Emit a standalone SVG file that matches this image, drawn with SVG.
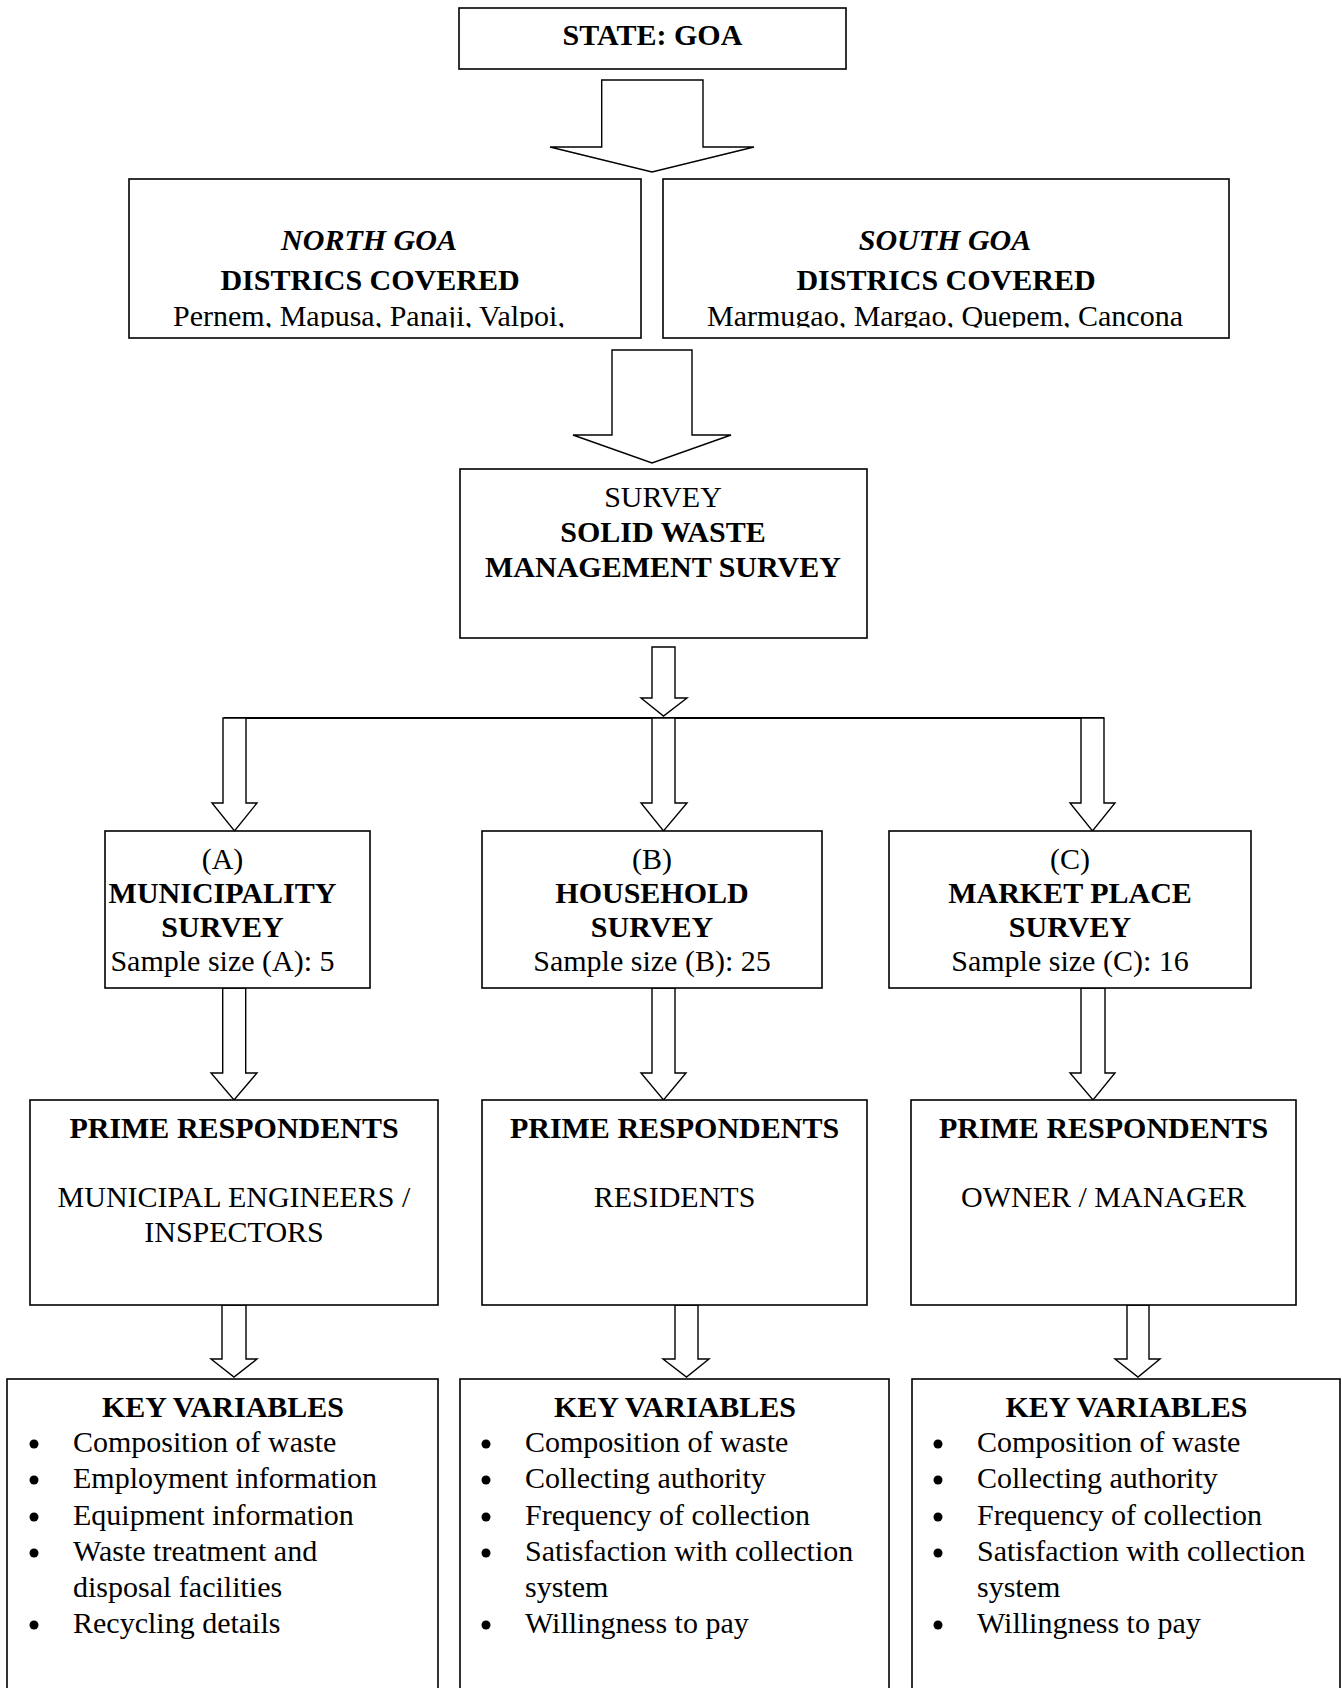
<svg xmlns="http://www.w3.org/2000/svg" width="1342" height="1688" viewBox="0 0 1342 1688">
<style>
.box{fill:#fff;stroke:#000;stroke-width:1.6}
.arr{fill:#fff;stroke:#000;stroke-width:1.4;stroke-linejoin:miter}
text{font-family:"Liberation Serif","Times New Roman",serif;font-size:30px;fill:#000}
.c{text-anchor:middle}
.b{font-weight:bold}
.i{font-style:italic}
</style>
<defs>
<clipPath id="clipN"><rect x="100" y="180" width="560" height="147.5"/></clipPath>
<clipPath id="clipS"><rect x="660" y="180" width="580" height="147.5"/></clipPath>
</defs>
<rect width="1342" height="1688" fill="#fff"/>

<g id="connectors">
<polygon class="arr" points="601.7,80 703,80 703,147 754,147 652,172 550,147 601.7,147"/>
<polygon class="arr" points="612,350 692,350 692,435 731,435 652,463 573,435 612,435"/>
<polygon class="arr" points="652,647 675,647 675,698 687,698 663.5,716 641,698 652,698"/>
<line x1="224" y1="718" x2="1104" y2="718" stroke="#000" stroke-width="2"/>
<polygon class="arr" points="223,718 246,718 246,803 257,803 234.5,831 212,803 223,803"/>
<polygon class="arr" points="652,718 675,718 675,803 687,803 663.5,831 641,803 652,803"/>
<polygon class="arr" points="1081,718 1104,718 1104,803 1115,803 1092.5,831 1070,803 1081,803"/>
<polygon class="arr" points="222.7,988 245.7,988 245.7,1073 257,1073 234,1100 211,1073 222.7,1073"/>
<polygon class="arr" points="652,988 675,988 675,1073 686,1073 663.5,1100 641,1073 652,1073"/>
<polygon class="arr" points="1081,988 1105,988 1105,1073 1115,1073 1093,1100 1070,1073 1081,1073"/>
<polygon class="arr" points="222,1305 246,1305 246,1359 257,1359 234,1377 211,1359 222,1359"/>
<polygon class="arr" points="675,1305 698,1305 698,1359 709,1359 686.5,1377 663,1359 675,1359"/>
<polygon class="arr" points="1127,1305 1149,1305 1149,1359 1160,1359 1138,1377 1115,1359 1127,1359"/>
</g>

<g id="state">
<rect class="box" x="459" y="8" width="387" height="61"/>
<text class="c b" x="652.5" y="45">STATE: GOA</text>
</g>

<g id="north-goa">
<rect class="box" x="129" y="179" width="512" height="159"/>
<text class="c b i" x="369" y="250">NORTH GOA</text>
<text class="c b" x="370" y="290">DISTRICS COVERED</text>
<text class="c" x="369" y="325.5" clip-path="url(#clipN)">Pernem, Mapusa, Panaji, Valpoi,</text>
</g>

<g id="south-goa">
<rect class="box" x="663" y="179" width="566" height="159"/>
<text class="c b i" x="945" y="250">SOUTH GOA</text>
<text class="c b" x="946" y="290">DISTRICS COVERED</text>
<text class="c" x="945" y="325.5" clip-path="url(#clipS)">Marmugao, Margao, Quepem, Cancona</text>
</g>

<g id="survey">
<rect class="box" x="460" y="469" width="407" height="169"/>
<text class="c" x="663" y="507">SURVEY</text>
<text class="c b" x="663" y="542">SOLID WASTE</text>
<text class="c b" x="663" y="577">MANAGEMENT SURVEY</text>
</g>

<g id="municipality-survey">
<rect class="box" x="105" y="831" width="265" height="157"/>
<text class="c" x="222.5" y="869">(A)</text>
<text class="c b" x="222.5" y="903">MUNICIPALITY</text>
<text class="c b" x="222.5" y="937">SURVEY</text>
<text class="c" x="222.5" y="971">Sample size (A): 5</text>
</g>

<g id="household-survey">
<rect class="box" x="482" y="831" width="340" height="157"/>
<text class="c" x="652" y="869">(B)</text>
<text class="c b" x="652" y="903">HOUSEHOLD</text>
<text class="c b" x="652" y="937">SURVEY</text>
<text class="c" x="652" y="971">Sample size (B): 25</text>
</g>

<g id="market-place-survey">
<rect class="box" x="889" y="831" width="362" height="157"/>
<text class="c" x="1070" y="869">(C)</text>
<text class="c b" x="1070" y="903">MARKET PLACE</text>
<text class="c b" x="1070" y="937">SURVEY</text>
<text class="c" x="1070" y="971">Sample size (C): 16</text>
</g>

<g id="prime-a">
<rect class="box" x="30" y="1100" width="408" height="205"/>
<text class="c b" x="234" y="1138">PRIME RESPONDENTS</text>
<text class="c" x="234" y="1207">MUNICIPAL ENGINEERS /</text>
<text class="c" x="234" y="1242">INSPECTORS</text>
</g>

<g id="prime-b">
<rect class="box" x="482" y="1100" width="385" height="205"/>
<text class="c b" x="674.5" y="1138">PRIME RESPONDENTS</text>
<text class="c" x="674.5" y="1207">RESIDENTS</text>
</g>

<g id="prime-c">
<rect class="box" x="911" y="1100" width="385" height="205"/>
<text class="c b" x="1103.5" y="1138">PRIME RESPONDENTS</text>
<text class="c" x="1103.5" y="1207">OWNER / MANAGER</text>
</g>

<g id="key-a">
<rect class="box" x="7" y="1379" width="431" height="330"/>
<text class="c b" x="223" y="1417">KEY VARIABLES</text>
<circle cx="34" cy="1444" r="4.5"/>
<circle cx="34" cy="1480" r="4.5"/>
<circle cx="34" cy="1517" r="4.5"/>
<circle cx="34" cy="1553" r="4.5"/>
<circle cx="34" cy="1625" r="4.5"/>
<text x="73" y="1452">Composition of waste</text>
<text x="73" y="1488">Employment information</text>
<text x="73" y="1525">Equipment information</text>
<text x="73" y="1561">Waste treatment and</text>
<text x="73" y="1597">disposal facilities</text>
<text x="73" y="1633">Recycling details</text>
</g>

<g id="key-b">
<rect class="box" x="460" y="1379" width="429" height="330"/>
<text class="c b" x="675" y="1417">KEY VARIABLES</text>
<circle cx="486" cy="1444" r="4.5"/>
<circle cx="486" cy="1480" r="4.5"/>
<circle cx="486" cy="1517" r="4.5"/>
<circle cx="486" cy="1553" r="4.5"/>
<circle cx="486" cy="1625" r="4.5"/>
<text x="525" y="1452">Composition of waste</text>
<text x="525" y="1488">Collecting authority</text>
<text x="525" y="1525">Frequency of collection</text>
<text x="525" y="1561">Satisfaction with collection</text>
<text x="525" y="1597">system</text>
<text x="525" y="1633">Willingness to pay</text>
</g>

<g id="key-c">
<rect class="box" x="912" y="1379" width="428" height="330"/>
<text class="c b" x="1126.5" y="1417">KEY VARIABLES</text>
<circle cx="938" cy="1444" r="4.5"/>
<circle cx="938" cy="1480" r="4.5"/>
<circle cx="938" cy="1517" r="4.5"/>
<circle cx="938" cy="1553" r="4.5"/>
<circle cx="938" cy="1625" r="4.5"/>
<text x="977" y="1452">Composition of waste</text>
<text x="977" y="1488">Collecting authority</text>
<text x="977" y="1525">Frequency of collection</text>
<text x="977" y="1561">Satisfaction with collection</text>
<text x="977" y="1597">system</text>
<text x="977" y="1633">Willingness to pay</text>
</g>
</svg>
